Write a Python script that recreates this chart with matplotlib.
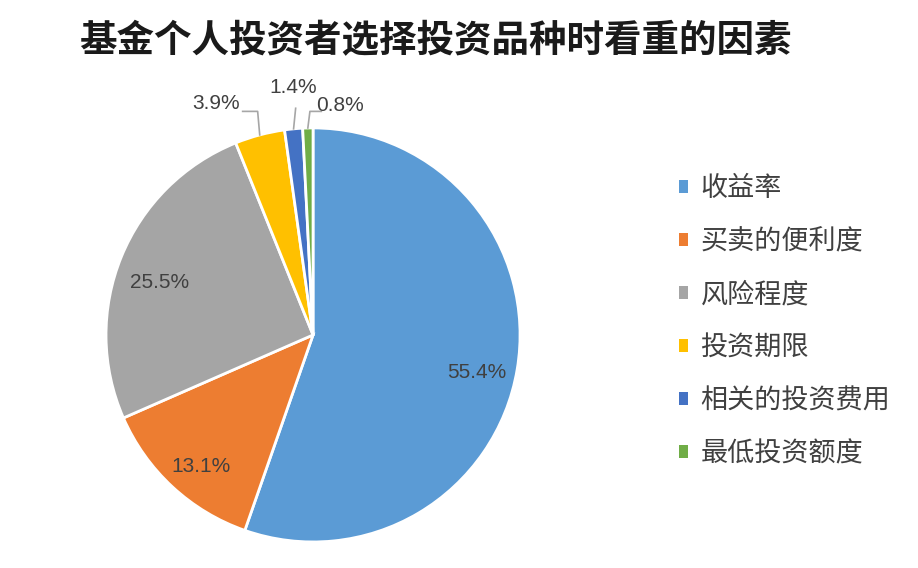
import numpy as np
import matplotlib.pyplot as plt
from matplotlib.patches import Patch

plt.rcParams['font.family'] = ['Noto Sans CJK SC', 'DejaVu Sans']

title = '基金个人投资者选择投资品种时看重的因素'
factors = ['收益率', '买卖的便利度', '风险程度', '投资期限', '相关的投资费用', '最低投资额度']
shares = [55.4, 13.1, 25.5, 3.9, 1.4, 0.8]
colors = ['#5B9BD5', '#ED7D31', '#A5A5A5', '#FFC000', '#4472C4', '#70AD47']

fig = plt.figure(figsize=(9.18, 5.68), dpi=100)
ax = fig.add_axes([0.1155, 0.0458, 0.451, 0.729])

wedges, _ = ax.pie(shares, colors=colors, startangle=90, counterclock=False,
                   wedgeprops=dict(edgecolor='white', linewidth=2))
ax.set_xlim(-1, 1)
ax.set_ylim(-1, 1)
ax.set_aspect('equal')

# inside labels for the big slices, leader lines for the small ones
outside = {3: (-0.47, 1.12), 4: (-0.097, 1.195), 5: (0.13, 1.11)}
for i, w in enumerate(wedges):
    mid = np.deg2rad((w.theta1 + w.theta2) / 2)
    txt = f'{shares[i]}%'
    if i in outside:
        tx, ty = outside[i]
        ex, ey = np.cos(mid), np.sin(mid)
        if i == 3:
            pts = [(ex, ey), (ex - 0.01, ty - 0.04), (tx + 0.13, ty - 0.04)]
        elif i == 4:
            pts = [(ex, ey), (ex + 0.01, ty - 0.1)]
        else:
            pts = [(ex, ey), (ex + 0.01, ty - 0.03), (tx - 0.09, ty - 0.03)]
        xs, ys = zip(*pts)
        ax.plot(xs, ys, color='#A6A6A6', lw=1.2, clip_on=False)
        ax.text(tx, ty, txt, ha='center', va='center', fontsize=15,
                color='#404040', family='Liberation Sans')
    else:
        r = 0.8
        ax.text(r * np.cos(mid), r * np.sin(mid) - 0.05, txt, ha='center',
                va='center', fontsize=15, color='#404040', family='Liberation Sans')

fig.text(0.474, 0.928, title, ha='center', va='center', fontsize=27,
         fontweight='bold', color='#1a1a1a')

handles = [Patch(facecolor=c, edgecolor='none') for c in colors]
fig.legend(handles, factors, loc='center left', bbox_to_anchor=(0.713, 0.434),
           frameon=False, fontsize=19.5, handlelength=0.35, handleheight=0.35,
           handletextpad=0.45, labelspacing=0.96, labelcolor='#404040')

fig.savefig('out.png', dpi=100)
